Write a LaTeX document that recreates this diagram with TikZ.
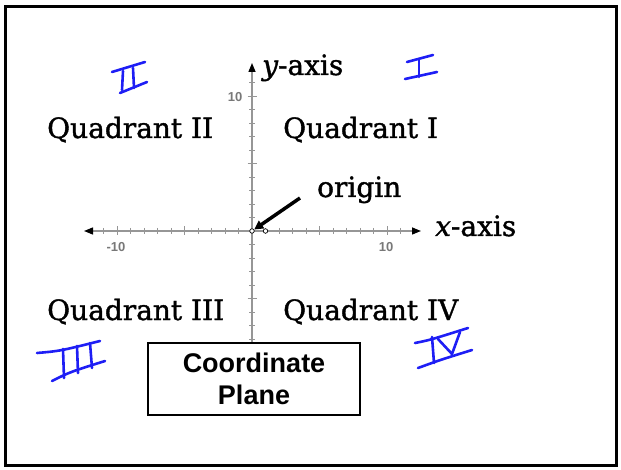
\documentclass[tikz,border=0pt]{standalone}
\usepackage{fontspec}
\setmainfont{DejaVu Serif}[BoldFont={DejaVu Serif},BoldFeatures={FakeBold=1.3},BoldItalicFont={DejaVu Serif Italic},BoldItalicFeatures={FakeBold=1.3}]
\newfontfamily\arialf{Liberation Sans}
\usetikzlibrary{arrows.meta}
\definecolor{pen}{RGB}{30,30,245}
\definecolor{axisgray}{RGB}{150,150,150}
\begin{document}
\begin{tikzpicture}[x=1pt,y=-1pt,
  axisline/.style={draw=axisgray,line width=1.4pt},
  tickline/.style={draw=axisgray,line width=0.8pt},
  ticklab/.style={font=\arialf\bfseries\fontsize{13}{14}\selectfont,text=axisgray!80!black,inner sep=0pt},
  quad/.style={font=\bfseries\fontsize{28}{32}\selectfont,anchor=base west,inner sep=0pt},
  hand/.style={draw=pen,line width=2.6pt,line cap=round,line join=round},
  dot/.style={circle,draw=black,fill=white,line width=0.7pt,inner sep=0pt,minimum size=4.5pt}]
\useasboundingbox (0,0) rectangle (621,470);
\draw[line width=3pt] (5.5,6.5) rectangle (616,465);
% axes
\coordinate (xl) at (84,231);
\coordinate (xr) at (421,231);
\coordinate (yt) at (252,63);
\coordinate (yb) at (252,342);
\draw[axisline,{Triangle[black,length=9pt,width=7pt]}-{Triangle[black,length=9pt,width=7pt]}] (xl) -- (xr);
\draw[axisline,-{Triangle[black,length=9pt,width=7pt]}] (yb) -- (yt);
\foreach \i in {-11,...,11}{
  \pgfmathsetmacro{\tl}{ifthenelse(mod(abs(\i),5)==0,4.5,3)}
  \draw[tickline] (252+13.5*\i,231-\tl) -- (252+13.5*\i,231+\tl);
}
\foreach \i in {-8,...,11}{
  \pgfmathsetmacro{\tl}{ifthenelse(mod(abs(\i),5)==0,4.5,3)}
  \draw[tickline] (252-\tl,231-13.5*\i) -- (252+\tl,231-13.5*\i);
}
\node[ticklab] (ty10) at (235,97) {10};
\node[ticklab] (txm10) at (116,247) {-10};
\node[ticklab] (tx10) at (386,247) {10};
\node[dot] (o) at (252,231) {};
\node[dot] (one) at (265.5,231) {};
% labels
\node[quad] (q2) at (47,138) {Quadrant II};
\node[quad] (q1) at (283,138) {Quadrant I};
\node[quad] (q3) at (47,320) {Quadrant III};
\node[quad] (q4) at (283,320) {Quadrant IV};
\node[quad] (orig) at (317,197) {origin};
\node[quad] (ylab) at (262,75) {\itshape y\upshape-axis};
\node[quad] (xlab) at (435,236) {\itshape x\upshape-axis};
% origin arrow
\coordinate (as) at (300,198);
\draw[line width=3.5pt,-{Triangle[length=9pt,width=9pt]}] (as) -- (o);
% box
\node[draw,line width=2pt,minimum width=212pt,minimum height=72pt,inner sep=0pt,
  align=center,font=\arialf\bfseries\fontsize{27}{32}\selectfont] (box) at (254,379) {Coordinate\\Plane};
% handwritten numerals
\draw[hand] (112,72) -- (145,62);
\draw[hand] (120,93) -- (147,82);
\draw[hand] (123,71) -- (122,90);
\draw[hand] (133,68) -- (134,88);
\draw[hand] (407,62) -- (433,55);
\draw[hand] (405,79) -- (437,72);
\draw[hand] (419,59) -- (419,77);
\draw[hand] (37,353) .. controls (60,351) .. (100,341);
\draw[hand] (52,381) .. controls (70,372) .. (105,361);
\draw[hand] (63,349) -- (64,378);
\draw[hand] (77,346) -- (78,373);
\draw[hand] (90,343) -- (92,368);
\draw[hand] (415,343) .. controls (430,340) .. (468,328);
\draw[hand] (418,368) .. controls (440,360) .. (472,350);
\draw[hand] (432,337) -- (434,363);
\draw[hand] (438,339) -- (452,354) -- (460,332);
\end{tikzpicture}
\end{document}
